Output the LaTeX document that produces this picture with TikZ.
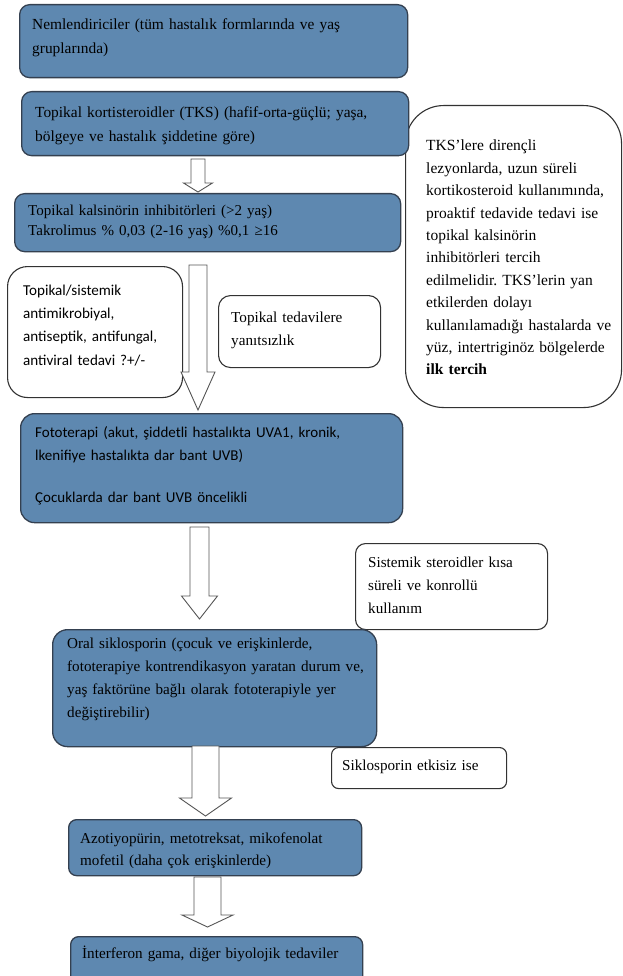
\documentclass[tikz,border=0pt]{standalone}
\usepackage{fontspec}
\setmainfont{Liberation Serif}
\newfontfamily\calfont{Carlito}
\setlength\parindent{0pt}
\frenchspacing
\definecolor{boxblue}{RGB}{94,136,176}
\definecolor{boxedge}{RGB}{52,64,80}
\definecolor{wedge}{RGB}{50,50,50}
\definecolor{arrowedge}{RGB}{85,85,85}
\newcommand\fontTa{\fontsize{15.4}{24}\selectfont}
\newcommand\fontTb{\fontsize{15.05}{20}\selectfont}
\newcommand\fontTc{\fontsize{15.5}{22.4}\selectfont}
\newcommand\fontTd{\fontsize{15.15}{23.3}\selectfont}
\newcommand\fontTe{\fontsize{15.2}{23}\selectfont}
\newcommand\fontTf{\fontsize{15.15}{22}\selectfont}
\newcommand\fontCa{\calfont\fontsize{15.1}{23.4}\selectfont}
\newcommand\fontCb{\calfont\fontsize{15.0}{23.5}\selectfont}
\newcommand\blkarrow[6]{%
  \draw[blockarrow] (#1-#5,#2) -- (#1+#5,#2) -- (#1+#5,#3) -- (#1+#6,#3)
    -- (#1,#4) -- (#1-#6,#3) -- (#1-#5,#3) -- cycle;}
\tikzset{
  bluebox/.style={draw=boxedge, fill=boxblue, line width=1.3pt, rounded corners=10pt,
    inner sep=0pt, anchor=north west},
  whitebox/.style={draw=wedge, fill=white, line width=1.1pt, rounded corners=10pt,
    inner sep=0pt, anchor=north west},
  txt/.style={inner sep=0pt, anchor=base west, align=left, text width=#1,
    execute at begin node=\frenchspacing},
  txt/.default=420pt,
  blockarrow/.style={draw=arrowedge, fill=white, line width=0.9pt, line join=miter}
}
\begin{document}
\begin{tikzpicture}[x=1pt, y=-1pt]
\useasboundingbox (0,0) rectangle (623,976);
% white boxes
\node[whitebox, rounded corners=38pt, minimum width=216pt, minimum height=302pt] (w8) at (405,105) {};
\node[whitebox, rounded corners=20pt, minimum width=175pt, minimum height=131pt] (w5) at (7,266) {};
\node[whitebox, rounded corners=12pt, minimum width=162pt, minimum height=72pt] (w7) at (218,295) {};
\node[whitebox, rounded corners=10pt, minimum width=192pt, minimum height=86pt] (w11) at (355,543) {};
\node[whitebox, rounded corners=7pt, minimum width=175pt, minimum height=41pt] (w13) at (331,747) {};
% blue boxes
\node[bluebox, minimum width=388pt, minimum height=73pt] (b1) at (19,4) {};
\node[bluebox, minimum width=387pt, minimum height=64pt] (b2) at (21,91) {};
\node[bluebox, minimum width=386pt, minimum height=58pt] (b4) at (14,193) {};
\node[bluebox, rounded corners=14pt, minimum width=382pt, minimum height=109pt] (b9) at (20,413) {};
\node[bluebox, rounded corners=15pt, minimum width=324pt, minimum height=117pt] (b12) at (52,629) {};
\node[bluebox, rounded corners=8pt, minimum width=293pt, minimum height=56pt] (b15) at (68,819) {};
\node[bluebox, rounded corners=8pt, minimum width=292pt, minimum height=50pt] (b17) at (70,936) {};
% arrows
\blkarrow{198}{159}{183}{192}{7}{14.5}
\blkarrow{198}{265}{372}{410}{9}{17}
\blkarrow{199.5}{527}{596}{619}{9.5}{18}
\blkarrow{205.5}{746}{798}{816}{13.5}{26}
\blkarrow{207.5}{877}{915}{927}{13.5}{25.5}
% texts
\node[txt, font=\fontTa] (t1) at (32,30) {Nemlendiriciler (tüm hastalık formlarında ve yaş\\gruplarında)};
\node[txt, font=\fontTa] (t2) at (35,118) {Topikal kortisteroidler (TKS) (hafif-orta-güçlü; yaşa,\\bölgeye ve hastalık şiddetine göre)};
\node[txt, font=\fontTb] (t4) at (28,216) {Topikal kalsinörin inhibitörleri (>2 yaş)\\Takrolimus \% 0,03 (2-16 yaş) \%0,1 ≥16};
\node[txt=170pt, font=\fontCa] (t5) at (23,295) {Topikal/sistemik\\antimikrobiyal,\\antiseptik, antifungal,\\antiviral tedavi ?+/-};
\node[txt=160pt, font=\fontTe] (t7) at (231,322) {Topikal tedavilere\\yanıtsızlık};
\node[txt=200pt, font=\fontTc] (t8) at (426,151) {TKS’lere dirençli\\lezyonlarda, uzun süreli\\kortikosteroid kullanımında,\\proaktif tedavide tedavi ise\\topikal kalsinörin\\inhibitörleri tercih\\edilmelidir. TKS’lerin yan\\etkilerden dolayı\\kullanılamadığı hastalarda ve\\yüz, intertriginöz bölgelerde\\\textbf{ilk tercih}};
\node[txt, font=\fontCb] (t9) at (35,437) {Fototerapi (akut, şiddetli hastalıkta UVA1, kronik,\\lkenifiye hastalıkta dar bant UVB)\\[18pt]Çocuklarda dar bant UVB öncelikli};
\node[txt=180pt, font=\fontTd] (t11) at (368,567) {Sistemik steroidler kısa\\süreli ve konrollü\\kullanım};
\node[txt, font=\fontTd] (t12) at (67,648) {Oral siklosporin (çocuk ve erişkinlerde,\\fototerapiye kontrendikasyon yaratan durum ve,\\yaş faktörüne bağlı olarak fototerapiyle yer\\değiştirebilir)};
\node[txt=170pt, font=\fontTd] (t13) at (342,770) {Siklosporin etkisiz ise};
\begin{scope}
\clip (68,819) rectangle (361,867);
\node[txt, font=\fontTf] (t15) at (80,843) {Azotiyopürin, metotreksat, mikofenolat\\mofetil (daha çok erişkinlerde)};
\end{scope}
\node[txt, font=\fontTf] (t17) at (82,958) {İnterferon gama, diğer biyolojik tedaviler};
\end{tikzpicture}
\end{document}
